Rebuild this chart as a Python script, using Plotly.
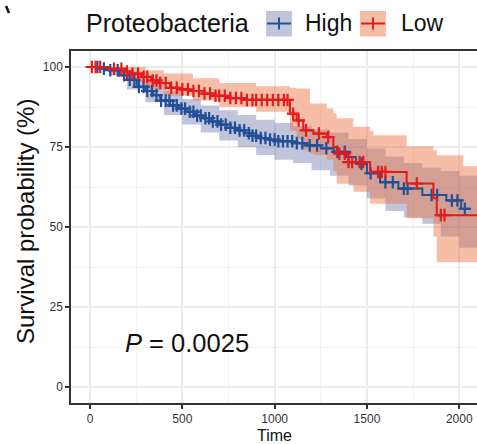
import numpy as np
import plotly.graph_objects as go

# ---------------- data ----------------
high_time = [0, 60, 100, 160, 200, 253, 300, 343, 380, 433, 480, 524, 570, 614, 660, 700,
             740, 790, 840, 880, 921, 970, 1020, 1100, 1170, 1250, 1320, 1390, 1440, 1500,
             1571, 1670, 1800, 1930, 2010, 2058]
high_surv = [100, 99.5, 99, 97.4, 96, 93.8, 92.5, 91.2, 89.5, 88, 87, 86, 84.8, 84, 83, 82,
             81, 80.2, 79.3, 78.5, 77.8, 77.3, 76.8, 76.2, 75.5, 74.6, 73.5, 71.9, 69.8, 66.8,
             64.0, 62.0, 60.0, 58.3, 55.7, 55.7]

low_time = [0, 100, 180, 226, 280, 330, 380, 433, 480, 540, 614, 680, 760, 840, 1083, 1119,
            1155, 1210, 1282, 1318, 1336, 1400, 1517, 1715, 1860, 1878, 2096]
low_surv = [100, 99.4, 98.6, 97.9, 96.9, 95.8, 95, 93.5, 93, 92.5, 91.7, 91, 90.3, 89.7, 85.4, 83.3,
            80.2, 79.2, 78.1, 75, 72.9, 70.3, 67.2, 63.6, 59, 53.7, 53.7]

high_ci_time = [0, 100, 200, 300, 400, 500, 600, 700, 800, 900, 1000, 1100, 1200, 1300, 1400,
                1500, 1600, 1700, 1800, 1900, 2000, 2096]
high_ci_upper = [100, 100, 98.5, 95.5, 92.5, 90, 88, 86.5, 85, 83.5, 82.5, 81.5, 80.5, 79.5, 77.5,
                 74.5, 72, 70, 68.5, 67.5, 66, 66]
high_ci_lower = [100, 97.5, 93, 89, 85, 82, 79.5, 77, 75, 72.5, 71, 70, 67.7, 66, 63,
                 59, 55, 53, 51, 47, 43.5, 43.5]

low_ci_time = [0, 100, 200, 300, 400, 558, 700, 900, 1083, 1119, 1155, 1192, 1210, 1282, 1318,
               1336, 1426, 1517, 1535, 1715, 1860, 1878, 2022, 2096]
low_ci_upper = [100, 100, 100, 99, 98, 96.5, 95, 94, 93.5, 93.3, 93.3, 88.6, 88.6, 87, 85.5,
                84, 81.3, 80, 78.7, 75.2, 74, 72.4, 69, 69]
low_ci_lower = [100, 98.5, 95.5, 93, 91, 89.5, 87.5, 86, 80, 77.5, 74, 73, 72.5, 71, 67.5,
                63.5, 61, 57.3, 57.3, 52.7, 47, 39, 39, 39]

high_censor = [40, 75, 110, 150, 185, 215, 240, 265, 290, 310, 335, 360, 385, 410, 430, 450,
               470, 495, 515, 540, 560, 580, 600, 625, 645, 665, 690, 710, 735, 760, 785, 810,
               835, 860, 880, 900, 925, 950, 975, 1000, 1020, 1045, 1070, 1095, 1120, 1150,
               1190, 1230, 1280, 1340, 1380, 1470, 1520, 1600, 1640, 1700, 1720, 1850, 1880,
               1960, 1990, 2030]
low_censor = [10, 30, 55, 130, 170, 200, 230, 260, 290, 310, 340, 360, 380, 410, 440, 470, 500,
              530, 560, 590, 620, 650, 680, 700, 730, 760, 790, 820, 850, 880, 900, 930, 960,
              990, 1020, 1050, 1070, 1100, 1130, 1170, 1240, 1290, 1350, 1380, 1400, 1420,
              1460, 1480, 1560, 1580, 1600, 1770, 1900, 1920]

group_names = ["High", "Low"]
legend_title = "Proteobacteria"
p_label = "<i>P</i> = 0.0025"
p_pos = (177, 13.7)
x_ticks = [0, 500, 1000, 1500, 2000]
y_ticks = [0, 25, 50, 75, 100]

# ---------------- styles ----------------
BLUE = "#234f97"
RED = "#e41a1c"
BLUE_FILL = "rgba(46,64,140,0.30)"
RED_FILL = "rgba(235,110,60,0.45)"
FONT = "Liberation Sans, Arial, Helvetica, sans-serif"

W, H = 477, 444
L, R, T, B = 71, 0, 51, 41
PW, PH = W - L - R, H - T - B


def px2paper(px, py):
    return (px - L) / PW, (H - B - py) / PH


def step_lookup(times, surv, t):
    idx = np.searchsorted(np.array(times), np.array(t), side="right") - 1
    return list(np.array(surv)[idx])


fig = go.Figure()

# confidence bands
for t, lo, up, fillc in [(high_ci_time, high_ci_lower, high_ci_upper, BLUE_FILL),
                         (low_ci_time, low_ci_lower, low_ci_upper, RED_FILL)]:
    fig.add_trace(go.Scatter(x=t, y=lo, mode="lines", line=dict(width=0, shape="hv"),
                             showlegend=False, hoverinfo="skip"))
    fig.add_trace(go.Scatter(x=t, y=up, mode="lines", line=dict(width=0, shape="hv"),
                             fill="tonexty", fillcolor=fillc, showlegend=False, hoverinfo="skip"))

# survival curves + censor marks
for name, t, s, cens, col in [("High", high_time, high_surv, high_censor, BLUE),
                              ("Low", low_time, low_surv, low_censor, RED)]:
    fig.add_trace(go.Scatter(x=t, y=s, mode="lines", name=name,
                             line=dict(color=col, width=2, shape="hv"), showlegend=False))
    fig.add_trace(go.Scatter(x=cens, y=step_lookup(t, s, cens), mode="markers",
                             marker=dict(symbol="cross-thin", size=9,
                                         line=dict(color=col, width=2.2)),
                             showlegend=False, hoverinfo="skip"))

shapes = []
annotations = []

# manual legend
annotations.append(dict(text=legend_title, xref="paper", yref="paper",
                        x=px2paper(84, 0)[0], y=px2paper(0, 23)[1], xanchor="left",
                        yanchor="middle", showarrow=False,
                        font=dict(family=FONT, size=25, color="#111")))
for (bx, tx), name, col, fillc in [((266, 303), group_names[0], BLUE, BLUE_FILL),
                                   ((360, 399), group_names[1], RED, RED_FILL)]:
    x0, y0 = px2paper(bx, 36.5)
    x1, y1 = px2paper(bx + 26, 11)
    shapes.append(dict(type="rect", xref="paper", yref="paper", x0=x0, y0=y0, x1=x1, y1=y1,
                       fillcolor=fillc, line=dict(width=0)))
    xa, ym = px2paper(bx + 1, 23.5)
    xb, _ = px2paper(bx + 25, 23.5)
    shapes.append(dict(type="line", xref="paper", yref="paper", x0=xa, x1=xb, y0=ym, y1=ym,
                       line=dict(color=col, width=2)))
    xc, yt = px2paper(bx + 13, 17.5)
    _, yb = px2paper(bx + 13, 29.5)
    shapes.append(dict(type="line", xref="paper", yref="paper", x0=xc, x1=xc, y0=yb, y1=yt,
                       line=dict(color=col, width=2)))
    annotations.append(dict(text=name, xref="paper", yref="paper",
                            x=px2paper(tx, 0)[0], y=px2paper(0, 23)[1], xanchor="left",
                            yanchor="middle", showarrow=False,
                            font=dict(family=FONT, size=23, color="#111")))

# small stray mark at top-left of the reference image
sx0, sy0 = px2paper(6, 6)
sx1, sy1 = px2paper(9, 13)
shapes.append(dict(type="line", xref="paper", yref="paper", x0=sx0, y0=sy0, x1=sx1, y1=sy1,
                   line=dict(color="#111", width=2.5)))

# p-value
annotations.append(dict(text=p_label, x=p_pos[0], y=p_pos[1], xref="x", yref="y",
                        xanchor="left", yanchor="middle", showarrow=False,
                        font=dict(family=FONT, size=25.5, color="#111")))

# axis titles
annotations.append(dict(text="Time", xref="paper", yref="paper",
                        x=px2paper(274, 0)[0], y=px2paper(0, 435)[1], xanchor="center",
                        yanchor="middle", showarrow=False,
                        font=dict(family=FONT, size=16, color="#111")))
annotations.append(dict(text="Survival probability (%)", xref="paper", yref="paper",
                        x=px2paper(25, 0)[0], y=px2paper(0, 222)[1], xanchor="center",
                        yanchor="middle", showarrow=False, textangle=-90,
                        font=dict(family=FONT, size=24, color="#111")))

axis_common = dict(showgrid=True, gridcolor="#ebebeb", gridwidth=1.8, zeroline=False,
                   showline=True, linecolor="#333", linewidth=1.5,
                   ticks="outside", ticklen=4, tickwidth=1.5, tickcolor="#333",
                   tickfont=dict(family=FONT, size=12, color="#333"))

fig.update_layout(
    width=W, height=H, margin=dict(l=L, r=R, t=T, b=B),
    paper_bgcolor="white", plot_bgcolor="white",
    showlegend=False, shapes=shapes, annotations=annotations,
    xaxis=dict(range=[-103, 2096], tickvals=x_ticks, mirror=True,
               minor=dict(tickvals=[250, 750, 1250, 1750], showgrid=True,
                          gridcolor="#f3f3f3", gridwidth=1, ticks=""),
               **axis_common),
    yaxis=dict(range=[-5, 105], tickvals=y_ticks, mirror=False,
               minor=dict(tickvals=[12.5, 37.5, 62.5, 87.5], showgrid=True,
                          gridcolor="#f3f3f3", gridwidth=1, ticks=""),
               **axis_common),
)

fig.write_html("out.html")
